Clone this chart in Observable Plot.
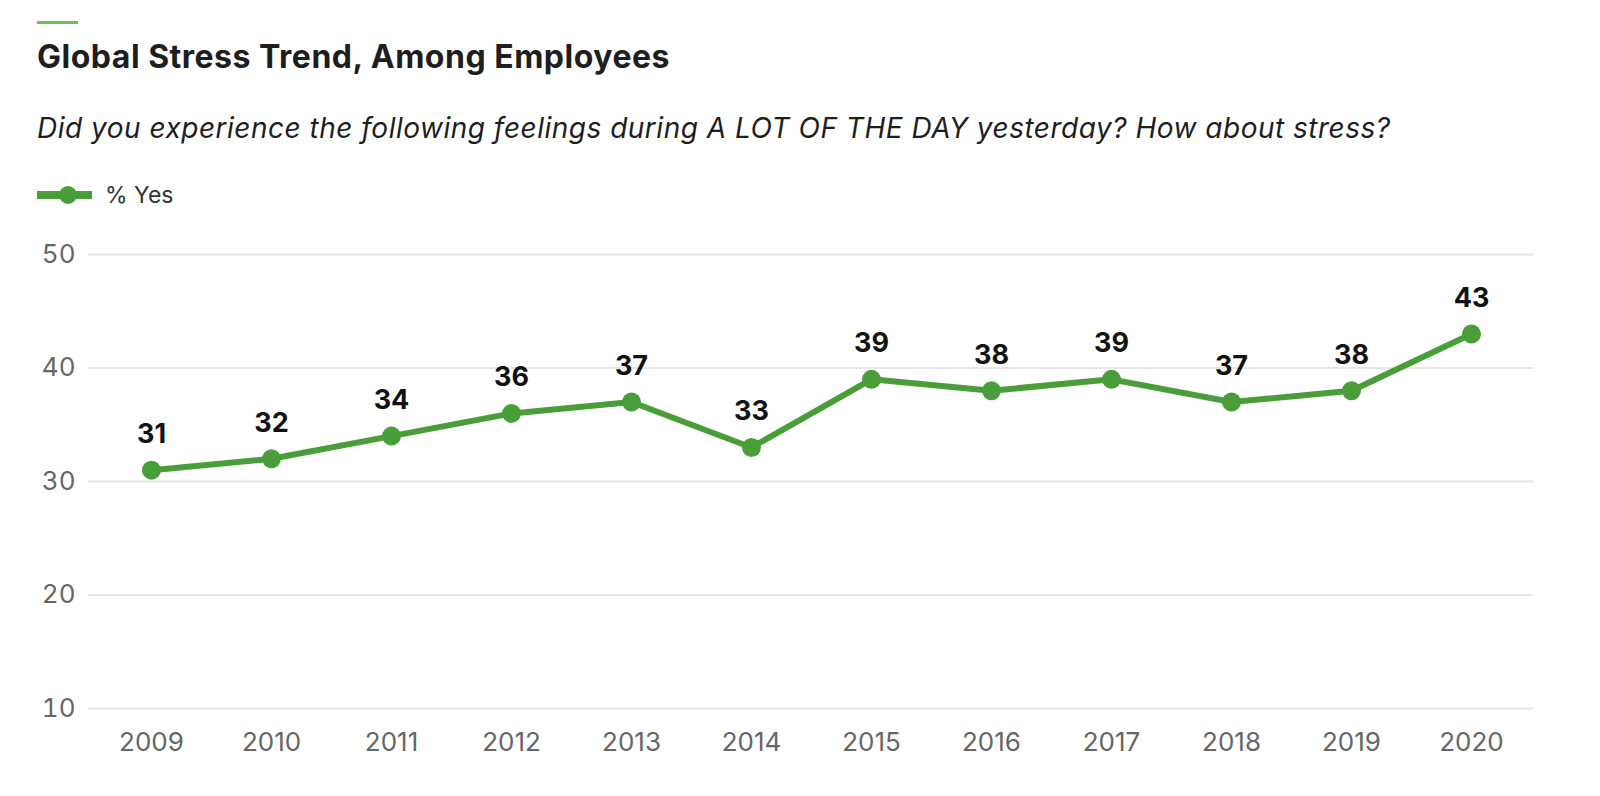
<!DOCTYPE html>
<html>
<head>
<meta charset="utf-8">
<script src="https://cdn.jsdelivr.net/npm/d3@7"></script>
<script src="https://cdn.jsdelivr.net/npm/@observablehq/plot@0.6"></script>
<style>
  html, body { margin: 0; padding: 0; background: #fff; }
  body { width: 1600px; height: 796px; position: relative; overflow: hidden; font-family: Inter, "Liberation Sans", Arial, sans-serif; }
  .accent { position: absolute; left: 37px; top: 21px; width: 41px; height: 3px; background: #6cc24a; }
  .title { position: absolute; left: 37px; top: 38px; font-size: 32px; letter-spacing: 0.5px; font-weight: bold; color: #1e1e1e; line-height: 38px; white-space: nowrap; }
  .subtitle { position: absolute; left: 37px; top: 110px; font-size: 28px; letter-spacing: 0.5px; font-style: italic; color: #1e1e1e; line-height: 36px; white-space: nowrap; }
  .legend { position: absolute; left: 37px; top: 180px; height: 30px; display: flex; align-items: center; font-size: 23px; color: #333; }
  .legend .sw { position: relative; width: 55px; height: 30px; margin-right: 13px; }
  .legend .sw .ln { position: absolute; left: 0; right: 0; top: 11px; height: 8px; background: #4a9e3a; }
  .legend .sw .dt { position: absolute; left: 22px; top: 6px; width: 18px; height: 18px; border-radius: 50%; background: #4a9e3a; }
  #chart { position: absolute; left: 0; top: 220px; }
</style>
</head>
<body>
<div class="accent"></div>
<div class="title">Global Stress Trend, Among Employees</div>
<div class="subtitle">Did you experience the following feelings during A LOT OF THE DAY yesterday? How about stress?</div>
<div class="legend"><span class="sw"><span class="ln"></span><span class="dt"></span></span><span>% Yes</span></div>
<div id="chart"></div>
<script>
const years = ["2009","2010","2011","2012","2013","2014","2015","2016","2017","2018","2019","2020"];
const yesPct = [31, 32, 34, 36, 37, 33, 39, 38, 39, 37, 38, 43];
const yTicks = [10, 20, 30, 40, 50];

const data = years.map((year, i) => ({year, value: yesPct[i]}));
const green = "#4a9e3a";

const chart = Plot.plot({
  width: 1600,
  height: 576,
  marginLeft: 88,
  marginRight: 67,
  marginTop: 34,
  marginBottom: 88,
  style: {fontFamily: "Inter, Liberation Sans, Arial, sans-serif", background: "#fff"},
  x: {type: "point", domain: years, padding: 0.5, label: null},
  y: {domain: [10, 50], ticks: yTicks, label: null},
  marks: [
    Plot.ruleY(yTicks, {stroke: "#e6e6e6", strokeWidth: 2}),
    Plot.axisY({ticks: yTicks, tickSize: 0, tickPadding: 13, fontSize: 26, fill: "#666", label: null}),
    Plot.axisX({tickSize: 0, tickPadding: 24, fontSize: 26, fill: "#666", label: null}),
    Plot.line(data, {x: "year", y: "value", stroke: green, strokeWidth: 6}),
    Plot.dot(data, {x: "year", y: "value", r: 9.5, fill: green, stroke: "none"}),
    Plot.text(data, {x: "year", y: "value", text: d => String(d.value), dy: -27, lineAnchor: "bottom", fontSize: 27, fontWeight: "bold", fill: "#111"})
  ]
});
document.getElementById("chart").appendChild(chart);
</script>
</body>
</html>
